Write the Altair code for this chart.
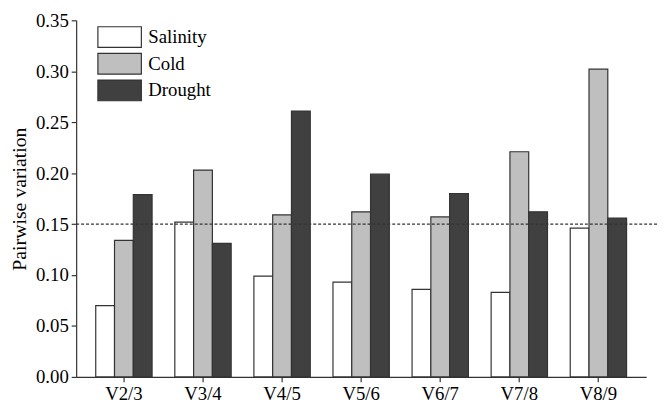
import altair as alt
import pandas as pd

groups = ["V2/3", "V3/4", "V4/5", "V5/6", "V6/7", "V7/8", "V8/9"]
series = ["Salinity", "Cold", "Drought"]
salinity = [0.070, 0.152, 0.099, 0.093, 0.086, 0.083, 0.146]
cold = [0.134, 0.203, 0.159, 0.162, 0.157, 0.221, 0.302]
drought = [0.179, 0.131, 0.261, 0.199, 0.180, 0.162, 0.156]
colors = ["#ffffff", "#bfbfbf", "#404040"]
threshold = [0.15]
y_ticks = [0.0, 0.05, 0.10, 0.15, 0.20, 0.25, 0.30, 0.35]

rows = []
for s, vals in zip(series, [salinity, cold, drought]):
    for g, v in zip(groups, vals):
        rows.append({"group": g, "series": s, "value": v})
df = pd.DataFrame(rows)
thr = pd.DataFrame({"t": threshold})

W, H = 577, 361
FONT = "Liberation Serif"

bars = alt.Chart(df).mark_bar(stroke="#333333", strokeWidth=1.2).encode(
    x=alt.X("group:N", sort=groups,
            scale=alt.Scale(paddingInner=0.2875, paddingOuter=0.2475),
            axis=alt.Axis(title=None, labelAngle=0)),
    xOffset=alt.XOffset("series:N", sort=series,
                        scale=alt.Scale(paddingInner=0, paddingOuter=0)),
    y=alt.Y("value:Q", scale=alt.Scale(domain=[0, 0.35], nice=False),
            axis=alt.Axis(title="Pairwise variation", values=y_ticks, format=".2f",
                          titlePadding=6, titleFontSize=20, titleFont=FONT,
                          titleFontWeight="normal", titleColor="black")),
    fill=alt.Fill("series:N", sort=series,
                  scale=alt.Scale(domain=series, range=colors),
                  legend=alt.Legend(title=None, orient="none", legendX=32, legendY=5,
                                    symbolType="M-2,-0.95H2V0.95H-2Z", symbolSize=484,
                                    symbolStrokeColor="#333333", symbolStrokeWidth=1.2,
                                    symbolOpacity=1, labelOffset=17, rowPadding=1,
                                    padding=0, labelFontSize=19, labelFont=FONT,
                                    labelColor="black")),
)

rule = alt.Chart(thr).mark_rule(color="#333333", strokeWidth=1.2, strokeDash=[3, 2]).encode(
    y="t:Q", x=alt.value(0), x2=alt.value(W + 12)
)

chart = alt.layer(bars, rule).properties(
    width=W, height=H,
    autosize=alt.AutoSizeParams(type="none"),
    padding={"left": 69, "top": 10, "right": 12, "bottom": 29},
).configure_view(stroke=None).configure_axis(
    grid=False, domainColor="#333333", domainWidth=1.2, tickColor="#333333",
    tickWidth=1.2, tickSize=5, labelFont=FONT, labelFontSize=19, labelColor="black",
    titleFont=FONT, titleFontSize=20, titleFontWeight="normal", titleColor="black",
    labelPadding=3,
)

chart.save("out.html", embed_options={"renderer": "svg", "actions": False})
